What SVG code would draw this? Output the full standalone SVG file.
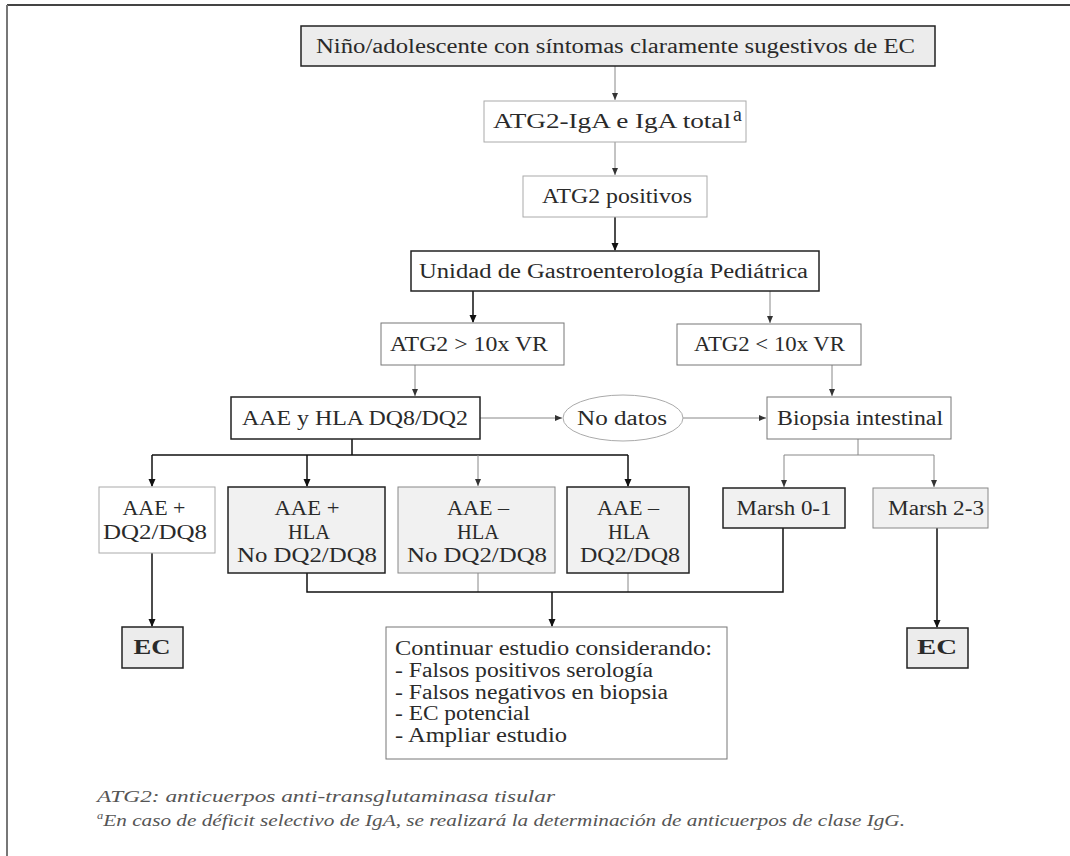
<svg xmlns="http://www.w3.org/2000/svg" width="1070" height="856" viewBox="0 0 1070 856">
<defs>
<style>
.t{font-family:"Liberation Serif","Times New Roman",serif;font-size:20px;fill:#2a2a2a;text-anchor:middle}
.ts{font-family:"Liberation Serif","Times New Roman",serif;font-size:20px;fill:#2a2a2a}
.fn{font-family:"Liberation Serif","Times New Roman",serif;font-size:17px;font-style:italic;fill:#555}
.dk{fill:#fff;stroke:#222;stroke-width:1.5}
.dkg{fill:#f1f1f1;stroke:#222;stroke-width:1.5}
.md{fill:#fff;stroke:#777;stroke-width:1}
.mdg{fill:#f1f1f1;stroke:#888;stroke-width:1}
.lt{fill:#fff;stroke:#aaa;stroke-width:1}
.ec{fill:#ececec;stroke:#222;stroke-width:1.5}
.cd{fill:none;stroke:#111;stroke-width:1.5}
.cg{fill:none;stroke:#888;stroke-width:1}
</style>
<marker id="ad" markerWidth="8" markerHeight="8" refX="7" refY="4" orient="auto" markerUnits="userSpaceOnUse">
<path d="M0,0.5 L8,4 L0,7.5 Z" fill="#111"/>
</marker>
<marker id="ag" markerWidth="8" markerHeight="8" refX="7" refY="4" orient="auto" markerUnits="userSpaceOnUse">
<path d="M0,1 L7,4 L0,7 Z" fill="#333"/>
</marker>
</defs>
<rect width="1070" height="856" fill="#fff"/>
<g id="frame">
<line x1="7" y1="5" x2="1070" y2="5" stroke="#444" stroke-width="2"/>
<line x1="7" y1="5" x2="7" y2="856" stroke="#777" stroke-width="2"/>
</g>
<g id="connectors">
<path class="cg" d="M615,66 V100" marker-end="url(#ag)"/>
<path class="cg" d="M615,142 V175" marker-end="url(#ag)"/>
<path class="cd" d="M615,217 V250" marker-end="url(#ad)"/>
<path class="cd" d="M473,291 V322" marker-end="url(#ad)"/>
<path class="cg" d="M770,291 V323" marker-end="url(#ag)"/>
<path class="cg" d="M415,365 V396" marker-end="url(#ag)"/>
<path class="cg" d="M480,418 H562" marker-end="url(#ag)"/>
<path class="cg" d="M683,418 H766" marker-end="url(#ag)"/>
<path class="cg" d="M832,365 V396" marker-end="url(#ag)"/>
<path class="cd" d="M352,439 V455 M152,455 H628"/>
<path class="cd" d="M152,455 V486" marker-end="url(#ad)"/>
<path class="cd" d="M307,455 V486" marker-end="url(#ad)"/>
<path class="cg" d="M478,455 V486" marker-end="url(#ag)"/>
<path class="cd" d="M628,455 V486" marker-end="url(#ad)"/>
<path class="cg" d="M858,439 V455 M784,455 H934"/>
<path class="cg" d="M784,455 V487" marker-end="url(#ag)"/>
<path class="cg" d="M934,455 V487" marker-end="url(#ag)"/>
<path class="cd" d="M152,553 V626" marker-end="url(#ad)"/>
<path class="cd" d="M937,528 V627" marker-end="url(#ad)"/>
<path class="cg" d="M478,573 V592 M628,573 V592"/>
<path class="cd" d="M307,573 V592 H783 V528"/>
<path class="cd" d="M552,592 V626" marker-end="url(#ad)"/>
</g>
<g id="n-title">
<rect class="ec" x="301" y="26" width="634" height="40"/>
<text class="t" x="615.5" y="53" font-size="22" fill="#111" textLength="599" lengthAdjust="spacingAndGlyphs">Niño/adolescente con síntomas claramente sugestivos de EC</text>
</g>
<g id="n-atg2iga">
<rect class="lt" x="484" y="101" width="262" height="41"/>
<text class="ts" x="493" y="128" textLength="238" lengthAdjust="spacingAndGlyphs">ATG2-IgA e IgA total</text>
<text class="ts" x="733" y="121" font-size="11">a</text>
</g>
<g id="n-atg2pos">
<rect class="lt" x="523" y="176" width="184" height="41"/>
<text class="t" x="617" y="203" textLength="150" lengthAdjust="spacingAndGlyphs">ATG2 positivos</text>
</g>
<g id="n-unidad">
<rect class="dk" x="411" y="251" width="408" height="40"/>
<text class="t" x="613.5" y="278" textLength="389" lengthAdjust="spacingAndGlyphs">Unidad de Gastroenterología Pediátrica</text>
</g>
<g id="n-mayor">
<rect class="md" x="381" y="323" width="183" height="42"/>
<text class="t" x="469" y="351" textLength="158" lengthAdjust="spacingAndGlyphs">ATG2 &gt; 10x VR</text>
</g>
<g id="n-menor">
<rect class="md" x="677" y="324" width="184" height="41"/>
<text class="t" x="769.5" y="351" textLength="151" lengthAdjust="spacingAndGlyphs">ATG2 &lt; 10x VR</text>
</g>
<g id="n-aae">
<rect class="dk" x="231" y="397" width="249" height="42"/>
<text class="t" x="355" y="425" textLength="226" lengthAdjust="spacingAndGlyphs">AAE y HLA DQ8/DQ2</text>
</g>
<g id="n-nodatos">
<ellipse cx="623" cy="418" rx="60" ry="23" fill="#fff" stroke="#aaa" stroke-width="1"/>
<text class="t" x="622" y="425" textLength="90" lengthAdjust="spacingAndGlyphs">No datos</text>
</g>
<g id="n-biopsia">
<rect class="md" x="767" y="397" width="184" height="42"/>
<text class="t" x="860" y="425" textLength="166" lengthAdjust="spacingAndGlyphs">Biopsia intestinal</text>
</g>
<g id="n-a">
<rect class="lt" x="99" y="487" width="116" height="66"/>
<text class="t" x="154" y="515" textLength="63" lengthAdjust="spacingAndGlyphs">AAE +</text>
<text class="t" x="155" y="539" textLength="104" lengthAdjust="spacingAndGlyphs">DQ2/DQ8</text>
</g>
<g id="n-b">
<rect class="dkg" x="228" y="487" width="157" height="86"/>
<text class="t" x="307" y="515" textLength="65" lengthAdjust="spacingAndGlyphs">AAE +</text>
<text class="t" x="309" y="539" textLength="42" lengthAdjust="spacingAndGlyphs">HLA</text>
<text class="t" x="307" y="562" textLength="140" lengthAdjust="spacingAndGlyphs">No DQ2/DQ8</text>
</g>
<g id="n-c">
<rect class="mdg" x="398" y="487" width="157" height="86"/>
<text class="t" x="478" y="515" textLength="62" lengthAdjust="spacingAndGlyphs">AAE –</text>
<text class="t" x="478" y="539" textLength="42" lengthAdjust="spacingAndGlyphs">HLA</text>
<text class="t" x="477" y="562" textLength="140" lengthAdjust="spacingAndGlyphs">No DQ2/DQ8</text>
</g>
<g id="n-d">
<rect class="dkg" x="567" y="487" width="122" height="86"/>
<text class="t" x="628" y="515" textLength="62" lengthAdjust="spacingAndGlyphs">AAE –</text>
<text class="t" x="629" y="539" textLength="42" lengthAdjust="spacingAndGlyphs">HLA</text>
<text class="t" x="630" y="562" textLength="100" lengthAdjust="spacingAndGlyphs">DQ2/DQ8</text>
</g>
<g id="n-marsh01">
<rect class="dkg" x="723" y="488" width="122" height="40"/>
<text class="t" x="784" y="515" textLength="95" lengthAdjust="spacingAndGlyphs">Marsh 0-1</text>
</g>
<g id="n-marsh23">
<rect class="mdg" x="873" y="488" width="115" height="40"/>
<text class="t" x="936" y="515" textLength="96" lengthAdjust="spacingAndGlyphs">Marsh 2-3</text>
</g>
<g id="n-ec1">
<rect class="ec" x="122" y="627" width="61" height="41"/>
<text class="t" x="152" y="654" font-weight="bold" textLength="37" lengthAdjust="spacingAndGlyphs">EC</text>
</g>
<g id="n-ec2">
<rect class="ec" x="907" y="628" width="61" height="40"/>
<text class="t" x="937" y="654" font-weight="bold" textLength="40" lengthAdjust="spacingAndGlyphs">EC</text>
</g>
<g id="n-continuar">
<rect class="md" x="386" y="627" width="341" height="132"/>
<text class="ts" x="395" y="655" textLength="317" lengthAdjust="spacingAndGlyphs">Continuar estudio considerando:</text>
<text class="ts" x="395" y="677" textLength="258" lengthAdjust="spacingAndGlyphs">- Falsos positivos serología</text>
<text class="ts" x="395" y="699" textLength="273" lengthAdjust="spacingAndGlyphs">- Falsos negativos en biopsia</text>
<text class="ts" x="395" y="720" textLength="135" lengthAdjust="spacingAndGlyphs">- EC potencial</text>
<text class="ts" x="395" y="742" textLength="172" lengthAdjust="spacingAndGlyphs">- Ampliar estudio</text>
</g>
<g id="footnotes">
<text class="fn" x="97" y="802" textLength="458" lengthAdjust="spacingAndGlyphs">ATG2: anticuerpos anti-transglutaminasa tisular</text>
<text class="fn" x="97" y="826" textLength="808" lengthAdjust="spacingAndGlyphs"><tspan font-size="10" dy="-7">a</tspan><tspan dy="7">En caso de déficit selectivo de IgA, se realizará la determinación de anticuerpos de clase IgG.</tspan></text>
</g>
</svg>
